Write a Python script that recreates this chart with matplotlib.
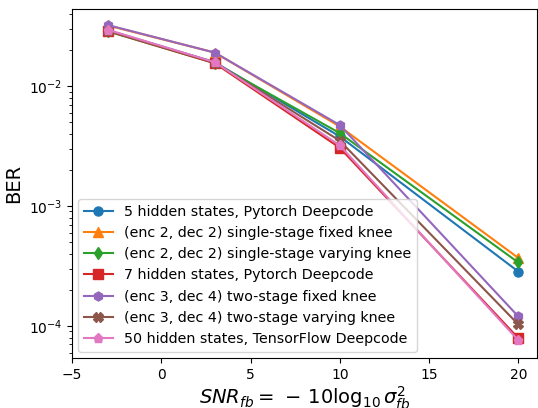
import matplotlib
matplotlib.use("Agg")
import matplotlib.pyplot as plt

snr = [-3, 3, 10, 20]
labels = [
    "5 hidden states, Pytorch Deepcode",
    "(enc 2, dec 2) single-stage fixed knee",
    "(enc 2, dec 2) single-stage varying knee",
    "7 hidden states, Pytorch Deepcode",
    "(enc 3, dec 4) two-stage fixed knee",
    "(enc 3, dec 4) two-stage varying knee",
    "50 hidden states, TensorFlow Deepcode",
]
ber_blue = [0.0292, 0.0158, 0.00380, 2.84e-4]
ber_orange = [0.0320, 0.0190, 0.00460, 3.69e-4]
ber_green = [0.0286, 0.0155, 0.00405, 3.38e-4]
ber_red = [0.0288, 0.0155, 0.00306, 7.9e-5]
ber_purple = [0.0323, 0.0190, 0.00473, 1.20e-4]
ber_brown = [0.0290, 0.0157, 0.00350, 1.03e-4]
ber_pink = [0.0295, 0.0158, 0.00320, 7.6e-5]

series = [ber_blue, ber_orange, ber_green, ber_red, ber_purple, ber_brown, ber_pink]
markers = ["o", "^", "d", "s", "h", "X", "p"]
colors = ["#1f77b4", "#ff7f0e", "#2ca02c", "#d62728", "#9467bd", "#8c564b", "#e377c2"]

fig = plt.figure(figsize=(5.38, 4.08), dpi=100)
ax = fig.add_axes([72/538, 1 - 358/408, (537-72)/538, (358-9)/408])
for y, m, c, lab in zip(series, markers, colors, labels):
    ax.plot(snr, y, marker=m, color=c, label=lab, markersize=6.5)
ax.set_yscale("log")
ax.set_xlim(-5, 21.05)
ax.set_ylim(5.4e-5, 0.0439)
ax.set_ylabel("BER", fontsize=14)
ax.set_xlabel(r"$SNR_{fb} = \,-\,10\log_{10}\sigma_{fb}^2$", fontsize=14, labelpad=2)
ax.legend(loc="lower left", fontsize=10.3, borderaxespad=0.45)
fig.savefig("out.png", dpi=100)
